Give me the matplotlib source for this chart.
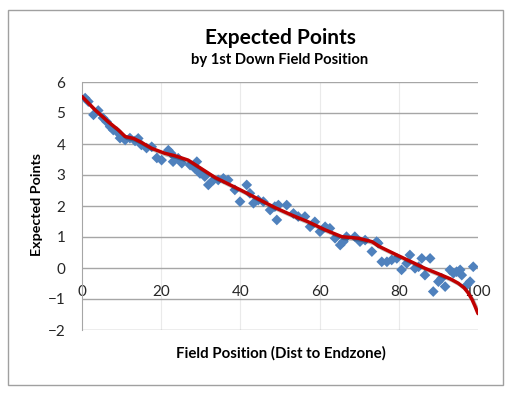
import matplotlib
matplotlib.use("Agg")
import matplotlib.pyplot as plt
import matplotlib.patheffects as pe
from matplotlib.patches import Rectangle


# scatter: expected points by distance to endzone
field_pos = [0.8, 1.6, 2.9, 4.1, 5.3, 6.2, 7.1, 7.9, 8.8, 9.6,
             10.9, 12.1, 13.4, 14.2, 15.0, 16.3, 17.6, 18.9, 20.1, 21.8,
             22.5, 23.0, 24.3, 25.2, 27.3, 28.5, 29.0, 29.8, 31.0, 31.9,
             33.2, 34.4, 35.7, 36.9, 38.6, 39.9, 41.6, 42.4, 43.3, 44.5,
             45.8, 47.5, 48.7, 49.2, 49.6, 51.7, 53.4, 54.6, 56.3, 57.6,
             58.8, 60.1, 61.4, 62.6, 63.9, 65.2, 66.0, 66.8, 68.9, 70.2,
             71.5, 73.2, 74.4, 74.8, 75.7, 77.0, 78.2, 79.5, 80.7, 82.0,
             82.8, 84.1, 85.0, 85.8, 86.6, 87.9, 88.7, 90.0, 90.8, 91.7,
             92.9, 93.8, 94.6, 95.5, 95.9, 97.2, 98.0, 98.8]
exp_points = [5.48, 5.37, 4.94, 5.08, 4.84, 4.72, 4.56, 4.45, 4.40, 4.19,
              4.13, 4.19, 4.10, 4.18, 3.97, 3.87, 3.91, 3.55, 3.48, 3.80,
              3.70, 3.43, 3.54, 3.38, 3.32, 3.21, 3.43, 3.05, 2.95, 2.68,
              2.84, 2.84, 2.89, 2.84, 2.52, 2.14, 2.68, 2.41, 2.09, 2.19,
              2.14, 1.87, 1.98, 1.55, 2.03, 2.03, 1.76, 1.66, 1.66, 1.33,
              1.49, 1.17, 1.33, 1.28, 0.96, 0.74, 0.85, 1.01, 1.01, 0.85,
              0.90, 0.53, 0.85, 0.80, 0.20, 0.20, 0.26, 0.31, -0.06, 0.15,
              0.42, -0.01, 0.04, 0.31, -0.23, 0.31, -0.76, -0.44, -0.33, -0.60,
              -0.06, -0.17, -0.12, -0.06, -0.23, -0.55, -0.44, 0.04]

# red trend line
trend_x = [0, 3.3, 6.6, 9.2, 10.9, 13.0, 14.6, 17.6, 20.9, 23.5, 26.8,
           33.6, 40.3, 48.7, 52.9, 57.1, 61.4, 65.6, 69.8, 73.2, 75.3,
           79.5, 83.0, 86.6, 90.8, 93.0, 95.0, 96.5, 97.5, 98.5, 99.2, 100]
trend_y = [5.53, 5.10, 4.72, 4.45, 4.24, 4.18, 4.08, 3.86, 3.70, 3.62, 3.48,
           2.92, 2.50, 1.95, 1.71, 1.49, 1.23, 1.01, 0.96, 0.85, 0.68,
           0.42, 0.21, -0.01, -0.23, -0.35, -0.49, -0.64, -0.80, -1.02,
           -1.22, -1.47]

x_ticks = [0, 20, 40, 60, 80, 100]
y_ticks = [-2, -1, 0, 1, 2, 3, 4, 5, 6]

FONT = ["Lato", "DejaVu Sans"]
plt.rcParams["font.family"] = FONT

fig = plt.figure(figsize=(5.13, 3.95), dpi=100)
fig.patches.append(Rectangle((8 / 513, 1 - 385 / 395), 495 / 513, 375 / 395,
                             transform=fig.transFigure, fill=False,
                             edgecolor="#A0A0A0", linewidth=1.0))

ax = fig.add_axes([82 / 513, 1 - 330 / 395, 396 / 513, 248 / 395])
ax.set_xlim(0, 100)
ax.set_ylim(-2, 6)

for y in y_ticks:
    ax.axhline(y, color="#A6A6A6", linewidth=1.0, zorder=1)
for x in [20, 40, 60, 80]:
    ax.axvline(x, color="#EAEAEA", linewidth=0.8, zorder=0)

ax.scatter(field_pos, exp_points, marker="D", s=30, color="#4F81BD",
           edgecolors="none", zorder=3)
ax.plot(trend_x, trend_y, color="#C00000", linewidth=2.5, zorder=4,
        solid_capstyle="round", solid_joinstyle="round",
        path_effects=[pe.SimpleLineShadow(offset=(1.2, -1.2), alpha=0.25),
                      pe.Normal()])

for side in ["top", "right"]:
    ax.spines[side].set_visible(False)
ax.spines["left"].set_color("#A6A6A6")
ax.spines["bottom"].set_position(("data", 0))
ax.spines["bottom"].set_visible(False)

ax.set_xticks(x_ticks)
ax.set_yticks(y_ticks)
ax.tick_params(axis="x", length=0, pad=12, labelsize=11, labelcolor="#262626")
ax.tick_params(axis="y", length=0, pad=12, labelsize=11, labelcolor="#262626")

fig.text(280 / 513, 1 - 38 / 395, "Expected Points", ha="center", va="center",
         fontsize=15, fontweight="bold")
fig.text(280 / 513, 1 - 60 / 395, "by 1st Down Field Position", ha="center",
         va="center", fontsize=10.6, fontweight="bold")
fig.text(37 / 513, 1 - 204 / 395, "Expected Points", ha="center", va="center",
         rotation=90, fontsize=10.3, fontweight="bold")
fig.text(281 / 513, 1 - 353 / 395, "Field Position (Dist to Endzone)",
         ha="center", va="center", fontsize=10.8, fontweight="bold")

fig.savefig("out.png", dpi=100)
